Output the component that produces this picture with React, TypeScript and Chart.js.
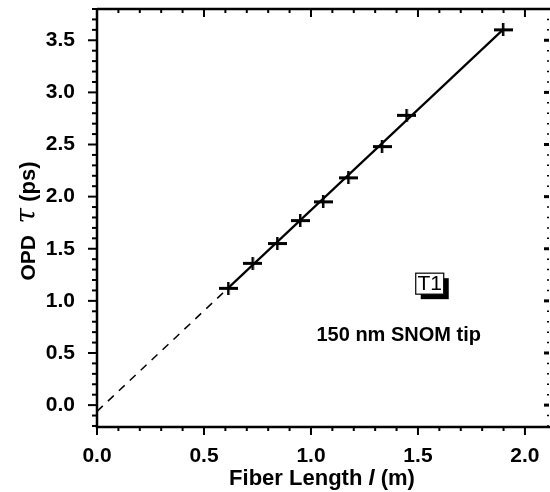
import React, { useEffect, useRef } from "react";
import { Chart, registerables } from "chart.js";
Chart.register(...registerables);

// Measured data: fiber length l (m) vs OPD tau (ps)
const fiberLength = [0.615, 0.729, 0.844, 0.951, 1.058, 1.176, 1.333, 1.448, 1.899];
const opdValues = [1.12, 1.36, 1.55, 1.77, 1.95, 2.18, 2.48, 2.78, 3.6];
// Linear fit (solid over data range, dashed extrapolation to l = 0)
const fitSolidX = [0.615, 1.9];
const fitSolidY = [1.127, 3.607];
const fitDashX = [0, 0.615];
const fitDashY = [-0.06, 1.127];
// Tick labels
const xTickLabels = ["0.0", "0.5", "1.0", "1.5", "2.0"];
const yTickLabels = ["0.0", "0.5", "1.0", "1.5", "2.0", "2.5", "3.0", "3.5"];
// Annotations
const boxLabel = "T1";
const noteLabel = "150 nm SNOM tip";

const FONT = '"Liberation Sans", Arial, Helvetica, sans-serif';

function makePlus(): HTMLCanvasElement {
  const c = document.createElement("canvas");
  c.width = 19;
  c.height = 13;
  const g = c.getContext("2d")!;
  g.fillStyle = "#000";
  g.fillRect(0, 5, 19, 3);
  g.fillRect(8, 0, 2.5, 13);
  return c;
}

const isStep = (v: number, step: number) => Math.abs(v / step - Math.round(v / step)) < 1e-6;

// build major + minor ticks (every 0.1) inside [min, max]
function buildTicks(scale: any) {
  const out: any[] = [];
  const start = Math.ceil(scale.min * 10 - 1e-6);
  const end = Math.floor(scale.max * 10 + 1e-6);
  for (let i = start; i <= end; i++) out.push({ value: Math.round(i) / 10 });
  scale.ticks = out;
}

const framePlugin = {
  id: "frame",
  afterDraw(chart: any) {
    const ctx: CanvasRenderingContext2D = chart.ctx;
    const ca = chart.chartArea;
    const xs = chart.scales.x;
    const ys = chart.scales.y;
    ctx.save();
    ctx.strokeStyle = "#000";
    ctx.fillStyle = "#000";
    // axis lines
    ctx.lineWidth = 2.5;
    ctx.beginPath();
    ctx.moveTo(ca.left, ca.top);
    ctx.lineTo(ca.left, ca.bottom);
    ctx.lineTo(550, ca.bottom);
    ctx.moveTo(ca.left, ca.top);
    ctx.lineTo(550, ca.top);
    ctx.stroke();
    // x ticks
    ctx.lineWidth = 2;
    xs.ticks.forEach((t: any) => {
      const v = t.value;
      const px = xs.getPixelForValue(v);
      const major = isStep(v, 0.5);
      ctx.beginPath();
      ctx.moveTo(px, ca.bottom);
      ctx.lineTo(px, ca.bottom + (major ? 8 : 4));
      ctx.moveTo(px, ca.top);
      ctx.lineTo(px, ca.top + (major ? 8 : 4));
      ctx.stroke();
    });
    // y ticks
    ys.ticks.forEach((t: any) => {
      const v = t.value;
      const py = ys.getPixelForValue(v);
      const major = isStep(v, 0.5);
      ctx.lineWidth = 2;
      ctx.beginPath();
      ctx.moveTo(ca.left, py);
      ctx.lineTo(ca.left - (major ? 9 : 5), py);
      ctx.stroke();
      ctx.beginPath();
      ctx.lineWidth = major ? 3 : 1.5;
      ctx.moveTo(549, py);
      ctx.lineTo(549 - (major ? 5 : 2), py);
      ctx.stroke();
    });

    // x title
    const xSegs = [
      { t: "Fiber Length ", f: `bold 22px ${FONT}` },
      { t: "l", f: `italic bold 22px ${FONT}` },
      { t: " (m)", f: `bold 22px ${FONT}` },
    ];
    let total = 0;
    xSegs.forEach((s) => {
      ctx.font = s.f;
      total += ctx.measureText(s.t).width;
    });
    let cx = (ca.left + ca.right) / 2 + 3 - total / 2;
    ctx.textBaseline = "alphabetic";
    ctx.textAlign = "left";
    xSegs.forEach((s) => {
      ctx.font = s.f;
      ctx.fillText(s.t, cx, 485);
      cx += ctx.measureText(s.t).width;
    });

    // y title
    const ySegs = [
      { t: "OPD  ", f: `bold 21px ${FONT}` },
      { t: "\u03C4", f: `italic 28px "DejaVu Serif", "Liberation Serif", serif` },
      { t: " (ps)", f: `bold 22px ${FONT}` },
    ];
    total = 0;
    ySegs.forEach((s) => {
      ctx.font = s.f;
      total += ctx.measureText(s.t).width;
    });
    ctx.save();
    ctx.translate(35, 221);
    ctx.rotate(-Math.PI / 2);
    let cy = -total / 2;
    ySegs.forEach((s) => {
      ctx.font = s.f;
      ctx.fillText(s.t, cy, 0);
      cy += ctx.measureText(s.t).width;
    });
    ctx.restore();

    // T1 box with shadow
    const bx = xs.getPixelForValue(1.555);
    const by = ys.getPixelForValue(1.165);
    const bw = 28, bh = 21;
    ctx.fillStyle = "#000";
    ctx.fillRect(bx - bw / 2 + 5, by - bh / 2 + 5, bw, bh);
    ctx.fillStyle = "#fff";
    ctx.fillRect(bx - bw / 2, by - bh / 2, bw, bh);
    ctx.lineWidth = 1.2;
    ctx.strokeStyle = "#000";
    ctx.strokeRect(bx - bw / 2, by - bh / 2, bw, bh);
    ctx.fillStyle = "#000";
    ctx.font = `21px ${FONT}`;
    ctx.textAlign = "center";
    ctx.textBaseline = "middle";
    ctx.fillText(boxLabel, bx, by + 1);

    // note
    ctx.font = `bold 20px ${FONT}`;
    ctx.fillText(noteLabel, xs.getPixelForValue(1.41), ys.getPixelForValue(0.67));
    ctx.restore();
  },
};

export default function App() {
  const ref = useRef<HTMLCanvasElement>(null);
  useEffect(() => {
    document.body.style.margin = "0";
    const plus = makePlus();
    const chart = new Chart(ref.current!, {
      type: "scatter",
      data: {
        datasets: [
          {
            type: "line",
            data: fitDashX.map((x, i) => ({ x, y: fitDashY[i] })),
            borderColor: "#000",
            borderWidth: 1.5,
            borderDash: [8, 7],
            pointRadius: 0,
            fill: false,
          },
          {
            type: "line",
            data: fitSolidX.map((x, i) => ({ x, y: fitSolidY[i] })),
            borderColor: "#000",
            borderWidth: 2.2,
            pointRadius: 0,
            fill: false,
          },
          {
            data: fiberLength.map((x, i) => ({ x, y: opdValues[i] })),
            pointStyle: plus as any,
            pointRadius: 8,
            backgroundColor: "#000",
            borderColor: "#000",
          },
        ],
      },
      options: {
        animation: false,
        responsive: false,
        events: [],
        layout: { padding: { top: 8, right: 3, left: 0, bottom: 0 } },
        plugins: { legend: { display: false }, tooltip: { enabled: false }, title: { display: false } },
        scales: {
          x: {
            type: "linear",
            min: 0,
            max: 2.075,
            grid: { display: false },
            border: { display: false },
            afterBuildTicks: buildTicks,
            afterFit: (s: any) => {
              s.height = 65;
              s.paddingLeft = 0;
              s.paddingRight = 0;
            },
            ticks: {
              autoSkip: false,
              maxRotation: 0,
              padding: 9,
              color: "#000",
              font: { family: FONT, size: 21, weight: "bold" },
              callback: (v: any) => {
                const s = Number(v).toFixed(1);
                return isStep(Number(v), 0.5) && xTickLabels.includes(s) ? s : "";
              },
            },
          },
          y: {
            type: "linear",
            min: -0.21,
            max: 3.8,
            grid: { display: false },
            border: { display: false },
            afterBuildTicks: buildTicks,
            afterFit: (s: any) => {
              s.width = 97;
              s.paddingTop = 0;
              s.paddingBottom = 0;
            },
            ticks: {
              autoSkip: false,
              padding: 14,
              color: "#000",
              font: { family: FONT, size: 21, weight: "bold" },
              callback: (v: any) => {
                const s = Number(v).toFixed(1);
                return isStep(Number(v), 0.5) && yTickLabels.includes(s) ? s : "";
              },
            },
          },
        },
      },
      plugins: [framePlugin],
    } as any);
    return () => chart.destroy();
  }, []);
  return (
    <div style={{ width: 550, height: 492, background: "#fff" }}>
      <canvas ref={ref} width={550} height={492} style={{ display: "block" }} />
    </div>
  );
}
